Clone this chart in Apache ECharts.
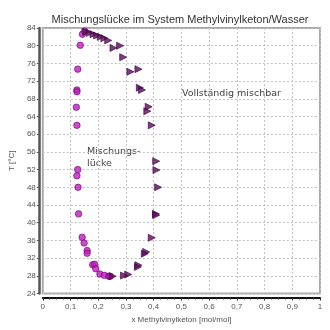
<!DOCTYPE html>
<html>
<head>
<meta charset="utf-8">
<script src="https://cdn.jsdelivr.net/npm/echarts@6/dist/echarts.min.js"></script>
<style>
html,body{margin:0;padding:0;background:#fff;}
#chart{width:330px;height:330px;}
</style>
</head>
<body>
<div id="chart"></div>
<script>
// Wasserreiche Phase (Kreise)
const waterX = [0.143, 0.151, 0.135, 0.126, 0.123, 0.123, 0.121, 0.123, 0.126, 0.123, 0.127, 0.129, 0.142, 0.149, 0.160, 0.160, 0.180, 0.187, 0.191, 0.206, 0.222, 0.238, 0.243];
const waterT = [82.6, 83.3, 80.1, 74.7, 70.0, 69.6, 66.1, 62.0, 52.0, 50.6, 48.0, 42.0, 36.7, 35.4, 33.7, 33.1, 30.5, 30.6, 29.6, 28.4, 28.1, 27.9, 27.9];
// Ketonreiche Phase (Dreiecke)
const ketonX = [0.157, 0.170, 0.183, 0.196, 0.209, 0.222, 0.236, 0.255, 0.279, 0.290, 0.316, 0.345, 0.350, 0.358, 0.382, 0.377, 0.393, 0.409, 0.410, 0.416, 0.408, 0.409, 0.393, 0.373, 0.368, 0.345, 0.343, 0.308, 0.293, 0.252];
const ketonT = [83.1, 82.9, 82.6, 82.3, 82.0, 81.7, 81.2, 79.5, 80.0, 77.4, 74.1, 74.7, 70.5, 70.0, 66.2, 65.2, 62.0, 53.9, 51.9, 48.0, 42.0, 41.7, 36.6, 33.4, 33.0, 30.4, 30.0, 28.3, 28.05, 27.9];

const xTicks = [0, 0.1, 0.2, 0.3, 0.4, 0.5, 0.6, 0.7, 0.8, 0.9, 1];
const yTicks = [24, 28, 32, 36, 40, 44, 48, 52, 56, 60, 64, 68, 72, 76, 80, 84];

const pairs = (xs, ys) => xs.map((x, i) => [x, ys[i]]);
const fmt = v => String(Math.round(v * 10) / 10).replace('.', ',');

const chart = echarts.init(document.getElementById('chart'));
chart.setOption({
  animation: false,
  textStyle: { fontFamily: 'Liberation Sans, Arial, sans-serif' },
  title: {
    text: 'Mischungslücke im System Methylvinylketon/Wasser',
    left: 175, top: 9, textAlign: 'center',
    textStyle: { fontSize: 11, fontWeight: 'normal', color: '#333' }
  },
  grid: {
    left: 33.5, right: 10, top: 28, bottom: 36.5,
    show: true, borderColor: '#a8a8a8', borderWidth: 2, backgroundColor: '#fff'
  },
  xAxis: {
    type: 'value', min: xTicks[0], max: xTicks[xTicks.length - 1], interval: 0.1, offset: 4,
    name: 'x Methylvinylketon [mol/mol]', nameLocation: 'middle', nameGap: 15,
    nameTextStyle: { fontSize: 8, color: '#555' },
    axisLine: { show: true, onZero: false, lineStyle: { color: '#111', width: 2 } },
    axisTick: { show: true, length: 3, lineStyle: { color: '#333' } },
    minorTick: { show: true, splitNumber: 4, length: 2, lineStyle: { color: '#333' } },
    axisLabel: { fontSize: 8, color: '#555', margin: 5, formatter: fmt },
    splitLine: { show: true, lineStyle: { color: '#c4c4c4', type: [2, 2], width: 1 } }
  },
  yAxis: {
    type: 'value', min: yTicks[0], max: yTicks[yTicks.length - 1], interval: 4, offset: 4,
    name: 'T [°C]', nameLocation: 'middle', nameGap: 18, nameRotate: 90,
    nameTextStyle: { fontSize: 8, color: '#555' },
    axisLine: { show: true, onZero: false, lineStyle: { color: '#555', width: 2.5 } },
    axisTick: { show: true, length: 2, lineStyle: { color: '#555' } },
    axisLabel: { fontSize: 8, color: '#555', margin: 3 },
    splitLine: { show: true, lineStyle: { color: '#c4c4c4', type: [2, 2], width: 1 } }
  },
  series: [
    {
      type: 'scatter', data: pairs(waterX, waterT),
      symbol: 'circle', symbolSize: 6.5,
      itemStyle: { color: '#c21cc2', borderColor: '#6a0a6a', borderWidth: 0.8 }
    },
    {
      type: 'scatter', data: pairs(ketonX, ketonT),
      symbol: 'triangle', symbolSize: 7, symbolRotate: -90,
      itemStyle: { color: '#5c0c5c', borderColor: '#3a003a', borderWidth: 0.8 }
    }
  ],
  graphic: [
    { type: 'text', left: 182, top: 89, style: { text: 'Vollständig mischbar', fontSize: 9.5, fill: '#444', fontFamily: 'DejaVu Sans, sans-serif' } },
    { type: 'text', left: 87, top: 146, style: { text: 'Mischungs-\nlücke', fontSize: 9.5, lineHeight: 11.5, fill: '#444', fontFamily: 'DejaVu Sans, sans-serif' } }
  ]
});
</script>
</body>
</html>
